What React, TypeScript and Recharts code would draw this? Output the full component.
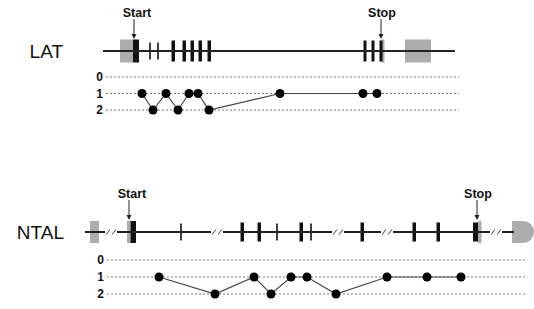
import React from 'react';
import { ComposedChart, XAxis, YAxis, Line, ReferenceLine, ReferenceArea, ReferenceDot } from 'recharts';

const FONT = '"Liberation Sans", Arial, Helvetica, sans-serif';
const W = 534;

const phaseTicks = [0, 1, 2];

// ---------- LAT ----------
const latName = 'LAT';
const latSpan: [number, number] = [103, 455];
const latUtr: [number, number][] = [[120, 133], [381.5, 384.5], [405, 431]];
const latExons: [number, number][] = [
  [133, 139], [171.5, 175], [182.5, 186], [190.5, 194], [198.5, 202], [207.5, 211],
  [363.5, 366.5], [371.5, 374.5], [379.5, 382.5],
];
const latThin = [150, 158];
const latBreaks: number[] = [];
const latStart = 134;
const latStop = 381;
const latPos = [142, 153, 166, 178, 189, 198, 209, 280, 363, 377];
const latPhase = [1, 2, 1, 2, 1, 1, 2, 1, 1, 1];
const latGrid: [number, number] = [106, 459];

// ---------- NTAL ----------
const ntalName = 'NTAL';
const ntalSpan: [number, number] = [85, 514];
const ntalUtr: [number, number][] = [[90, 99], [127, 130.5], [478, 481.5]];
const ntalExons: [number, number][] = [
  [130.5, 136], [240.5, 244], [257.5, 261], [299.5, 303], [360.5, 364], [412.5, 416], [436.5, 440], [473, 478],
];
const ntalThin = [181, 277, 311];
const ntalBreaks = [111, 217, 338, 387, 496];
const ntalTerminal: [number, number] = [512, 534];
const ntalStart = 129;
const ntalStop = 477;
const ntalPos = [159, 215, 254, 271, 291, 307, 336, 387, 427, 461];
const ntalPhase = [1, 2, 1, 2, 1, 1, 2, 1, 1, 1];
const ntalGrid: [number, number] = [107, 527];

type GeneData = {
  name: string;
  span: [number, number];
  utr: [number, number][];
  exons: [number, number][];
  thin: number[];
  breaks: number[];
  terminal?: [number, number];
  start: number;
  stop: number;
  pos: number[];
  phase: number[];
  grid: [number, number];
};

type Layout = {
  height: number;
  phase0Px: number;
  rowPx: number;
  geneAbovePx: number;
  nameOffset: number;
  blockHalf: number;
  exonHalf: number;
  firstHalf: number;
  thinHalf: number;
};

const BreakMark = (props: any) => {
  const { cx, cy } = props;
  return (
    <g>
      <rect x={cx - 6} y={cy - 3} width={12} height={6} fill="#fff" />
      <line x1={cx - 5} y1={cy + 2.5} x2={cx - 1} y2={cy - 2.5} stroke="#666" strokeWidth={1.2} />
      <line x1={cx + 1} y1={cy + 2.5} x2={cx + 5} y2={cy - 2.5} stroke="#666" strokeWidth={1.2} />
    </g>
  );
};

const Bullet = (props: any) => {
  const { x, y, width, height } = props;
  const r = height / 2;
  return (
    <path
      d={`M${x},${y} H${x + width - r} A${r},${r} 0 0 1 ${x + width - r},${y + height} H${x} Z`}
      fill="#adadad"
    />
  );
};

const Arrow = (props: any) => {
  const { x1, y1, x2, y2 } = props;
  const top = Math.min(y1, y2);
  const bot = Math.max(y1, y2);
  const x = (x1 + x2) / 2;
  return (
    <g>
      <line x1={x} y1={top} x2={x} y2={bot - 4} stroke="#222" strokeWidth={1} />
      <path d={`M${x - 2.5},${bot - 5} L${x + 2.5},${bot - 5} L${x},${bot} Z`} fill="#222" />
    </g>
  );
};

function GeneTrack({ gene, layout }: { gene: GeneData; layout: Layout }) {
  const { height, phase0Px, rowPx, geneAbovePx, nameOffset } = layout;
  const u = (px: number) => px / rowPx;
  const domain: [number, number] = [-phase0Px / rowPx, (height - phase0Px) / rowPx];
  const gy = -u(geneAbovePx);
  const points = gene.pos.map((p, i) => ({ pos: p, phase: gene.phase[i] }));
  const block = u(layout.blockHalf);
  const ex = u(layout.exonHalf);
  const first = u(layout.firstHalf);
  const th = u(layout.thinHalf);
  const arrowTop = gy - u(32);
  const arrowBot = gy - u(12);
  const textLabel = (value: string, dx: number) => ({
    value,
    position: 'top' as const,
    offset: 2,
    dx,
    fontSize: 12.5,
    fontWeight: 'bold',
    fill: '#111',
    fontFamily: FONT,
  });
  return (
    <ComposedChart width={W} height={height} margin={{ top: 0, right: 0, bottom: 0, left: 0 }} style={{ display: 'block' }}>
      <XAxis dataKey="pos" type="number" domain={[0, W]} hide allowDataOverflow />
      <YAxis type="number" domain={domain} reversed hide allowDataOverflow />
      {phaseTicks.map((p) => (
        <ReferenceLine
          key={'g' + p}
          segment={[{ x: gene.grid[0], y: p }, { x: gene.grid[1], y: p }]}
          stroke="#7a7a7a"
          strokeDasharray="2 2"
          strokeWidth={1}
          label={{ value: String(p), position: 'left', offset: 3, fontSize: 12, fontWeight: 'bold', fill: '#111', fontFamily: FONT }}
        />
      ))}
      <ReferenceLine
        segment={[{ x: gene.span[0], y: gy }, { x: gene.span[1], y: gy }]}
        stroke="#222"
        strokeWidth={2}
        label={{ value: gene.name, position: 'left', offset: nameOffset, fontSize: 19, fill: '#111', fontFamily: FONT }}
      />
      {gene.breaks.map((b) => (
        <ReferenceDot key={'b' + b} x={b} y={gy} r={6} shape={BreakMark} />
      ))}
      {gene.utr.map(([a, b]) => (
        <ReferenceArea key={'u' + a} x1={a} x2={b} y1={gy - block} y2={gy + block} fill="#adadad" fillOpacity={1} stroke="none" />
      ))}
      {gene.terminal && (
        <ReferenceArea x1={gene.terminal[0]} x2={gene.terminal[1]} y1={gy - block} y2={gy + block} shape={Bullet} />
      )}
      {gene.exons.map(([a, b], i) => (
        <ReferenceArea
          key={'e' + a}
          x1={a}
          x2={b}
          y1={gy - (i === 0 ? first : ex)}
          y2={gy + (i === 0 ? first : ex)}
          fill="#111"
          fillOpacity={1}
          stroke="none"
        />
      ))}
      {gene.thin.map((c) => (
        <ReferenceArea key={'t' + c} x1={c - 0.8} x2={c + 0.8} y1={gy - th} y2={gy + th} fill="#111" fillOpacity={1} stroke="none" />
      ))}
      <ReferenceLine segment={[{ x: gene.start, y: arrowTop }, { x: gene.start, y: arrowBot }]} shape={Arrow} label={textLabel('Start', 3)} />
      <ReferenceLine segment={[{ x: gene.stop, y: arrowTop }, { x: gene.stop, y: arrowBot }]} shape={Arrow} label={textLabel('Stop', 1)} />
      <Line
        data={points}
        dataKey="phase"
        type="linear"
        stroke="#444"
        strokeWidth={1.2}
        dot={{ r: 4.5, fill: '#000', stroke: '#000', strokeWidth: 0 }}
        activeDot={false}
        isAnimationActive={false}
      />
    </ComposedChart>
  );
}

const lat: GeneData = {
  name: latName, span: latSpan, utr: latUtr, exons: latExons, thin: latThin, breaks: latBreaks,
  start: latStart, stop: latStop, pos: latPos, phase: latPhase, grid: latGrid,
};
const ntal: GeneData = {
  name: ntalName, span: ntalSpan, utr: ntalUtr, exons: ntalExons, thin: ntalThin, breaks: ntalBreaks,
  terminal: ntalTerminal, start: ntalStart, stop: ntalStop, pos: ntalPos, phase: ntalPhase, grid: ntalGrid,
};

const latLayout: Layout = {
  height: 154, phase0Px: 77, rowPx: 16.5, geneAbovePx: 26, nameOffset: 40,
  blockHalf: 11.5, exonHalf: 10.5, firstHalf: 11.5, thinHalf: 8.5,
};
const ntalLayout: Layout = {
  height: 155, phase0Px: 106, rowPx: 17, geneAbovePx: 28, nameOffset: 21,
  blockHalf: 11, exonHalf: 9.5, firstHalf: 11, thinHalf: 8.5,
};

export default function App() {
  return (
    <div style={{ position: 'absolute', left: 0, top: 0, width: W, height: 309, background: '#fff' }}>
      <GeneTrack gene={lat} layout={latLayout} />
      <GeneTrack gene={ntal} layout={ntalLayout} />
    </div>
  );
}
